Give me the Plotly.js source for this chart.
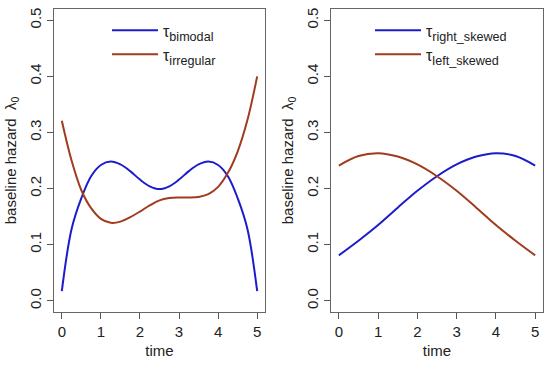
<!DOCTYPE html>
<html>
<head>
<meta charset="utf-8">
<script src="https://cdn.plot.ly/plotly-3.0.1.min.js"></script>
<style>html,body{margin:0;padding:0;background:#fff;}#chart{width:550px;height:365px;}</style>
</head>
<body>
<div id="chart"></div>
<script>
// ---- data ----
const timeLeft = [0,0.25,0.5,0.75,1,1.25,1.5,1.75,2,2.25,2.5,2.75,3,3.25,3.5,3.75,4,4.25,4.5,4.75,5];
const bimodal   = [0.017,0.128,0.183,0.222,0.242,0.248,0.243,0.231,0.216,0.204,0.199,0.204,0.216,0.231,0.243,0.248,0.242,0.222,0.183,0.128,0.017];
const irregular = [0.321,0.250,0.197,0.165,0.146,0.139,0.141,0.149,0.159,0.170,0.179,0.183,0.184,0.184,0.185,0.190,0.203,0.228,0.266,0.322,0.400];

const timeRight = [0,0.5,1,1.5,2,2.5,3,3.5,4,4.5,5];
const rightSkewed = [0.081,0.107,0.135,0.166,0.196,0.222,0.243,0.257,0.263,0.258,0.241];
const leftSkewed  = [0.241,0.258,0.263,0.257,0.243,0.222,0.196,0.166,0.135,0.107,0.081];

const xTicks = [0,1,2,3,4,5];
const yTicks = [0,0.1,0.2,0.3,0.4,0.5];
const yTickText = ["0.0","0.1","0.2","0.3","0.4","0.5"];

const TAU = '<span style="font-size:16px">τ</span>';
const names = {
  bimodal: TAU + "<sub>bimodal</sub>",
  irregular: TAU + "<sub>irregular</sub>",
  right: TAU + "<sub>right_skewed</sub>",
  left: TAU + "<sub>left_skewed</sub>"
};

// ---- styling ----
const BLUE = "#1c1ccc";
const BROWN = "#a03c1e";
const FONT = "Liberation Sans, Arial, sans-serif";
const TXT = "#222";

function line(x, y, name, color, xa, ya, leg) {
  return {x: x, y: y, name: name, type: "scatter", mode: "lines",
    line: {color: color, width: 2, shape: "spline", smoothing: 1},
    xaxis: xa, yaxis: ya, legend: leg, hoverinfo: "skip"};
}

const traces = [
  line(timeLeft, bimodal, names.bimodal, BLUE, "x", "y", "legend"),
  line(timeLeft, irregular, names.irregular, BROWN, "x", "y", "legend2"),
  line(timeRight, rightSkewed, names.right, BLUE, "x2", "y2", "legend3"),
  line(timeRight, leftSkewed, names.left, BROWN, "x2", "y2", "legend4")
];

function xaxis(domain, anchor) {
  return {domain: domain, anchor: anchor, range: [-0.2, 5.2], tickvals: xTicks,
    ticks: "outside", ticklen: 6, tickwidth: 1, tickcolor: "#555",
    showline: true, mirror: true, linecolor: "#666", linewidth: 1,
    showgrid: false, zeroline: false,
    tickfont: {family: FONT, size: 15, color: TXT},
    title: {text: "time", font: {family: FONT, size: 15, color: TXT}, standoff: 6},
    automargin: false, fixedrange: true};
}
function yaxis(domain, anchor) {
  return {domain: domain, anchor: anchor, range: [-0.02, 0.52], tickvals: yTicks, ticktext: yTickText,
    tickangle: -90, ticks: "outside", ticklen: 6, tickwidth: 1, tickcolor: "#555",
    showline: true, mirror: true, linecolor: "#666", linewidth: 1,
    showgrid: false, zeroline: false,
    tickfont: {family: FONT, size: 15, color: TXT},
    title: {text: "baseline hazard  λ<sub>0</sub>", font: {family: FONT, size: 15, color: TXT}, standoff: 6},
    automargin: false, fixedrange: true};
}

const yDom = [(365-312)/365, (365-9)/365];
function legendAt(px, py) {
  return {x: px/550, y: (365-py)/365, font: {family: FONT, size: 18, color: TXT}, bgcolor: "rgba(0,0,0,0)",
    borderwidth: 0, xanchor: "left", yanchor: "top", itemwidth: 46};
}

const layout = {
  width: 550, height: 365,
  margin: {l: 0, r: 0, t: 0, b: 0},
  paper_bgcolor: "#fff", plot_bgcolor: "#fff",
  showlegend: true,
  xaxis: xaxis([54/550, 265/550], "y"),
  yaxis: yaxis(yDom, "x"),
  xaxis2: xaxis([331/550, 543/550], "y2"),
  yaxis2: yaxis(yDom, "x2"),
  legend: legendAt(107, 12),
  legend2: legendAt(107, 36),
  legend3: legendAt(370, 12),
  legend4: legendAt(370, 36)
};

Plotly.newPlot("chart", traces, layout, {staticPlot: true, displayModeBar: false});
</script>
</body>
</html>
